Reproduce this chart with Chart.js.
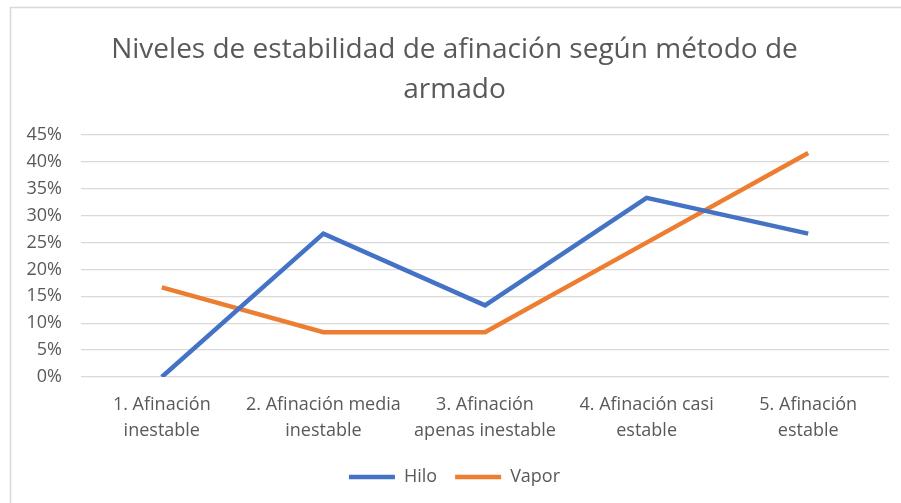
<!DOCTYPE html>
<html>
<head>
<meta charset="utf-8">
<script src="https://cdn.jsdelivr.net/npm/chart.js@4"></script>
<style>
  html, body { margin: 0; padding: 0; background: #fff; }
  #wrap { width: 901px; height: 503px; }
</style>
</head>
<body>
<div id="wrap"><canvas id="chart" width="901" height="503"></canvas></div>
<script>
// data
const categories = [
    ['1. Afinación', 'inestable'],
    ['2. Afinación media', 'inestable'],
    ['3. Afinación', 'apenas inestable'],
    ['4. Afinación casi', 'estable'],
    ['5. Afinación', 'estable']
];
const hiloValues = [0, 26.67, 13.33, 33.33, 26.67];
const vaporValues = [16.67, 8.33, 8.33, 25, 41.67];
const yTicks = [0, 5, 10, 15, 20, 25, 30, 35, 40, 45];

const textColor = '#595959';
const gridColor = '#D9D9D9';
const fontFamily = '"Open Sans", "Liberation Sans", sans-serif';

// light frame round the chart like the Excel chart area
const framePlugin = {
    id: 'frame',
    beforeDraw(chart) {
        const c = chart.ctx;
        c.save();
        c.strokeStyle = '#D9D9D9';
        c.lineWidth = 1.5;
        c.beginPath();
        c.moveTo(10.5, 503);
        c.lineTo(10.5, 7.5);
        c.lineTo(901, 7.5);
        c.stroke();
        c.restore();
    }
};

const ctx = document.getElementById('chart').getContext('2d');
const chart = new Chart(ctx, {
    type: 'line',
    data: {
        labels: categories,
        datasets: [
            {
                label: 'Hilo',
                data: hiloValues,
                borderColor: '#4472C4',
                backgroundColor: '#4472C4',
                borderWidth: 4.5,
                pointRadius: 0,
                tension: 0
            },
            {
                label: 'Vapor',
                data: vaporValues,
                borderColor: '#ED7D31',
                backgroundColor: '#ED7D31',
                borderWidth: 4.5,
                pointRadius: 0,
                tension: 0
            }
        ]
    },
    options: {
        responsive: false,
        animation: false,
        layout: { padding: { top: 30, left: 20, right: 12, bottom: 7 } },
        plugins: {
            title: {
                display: true,
                text: ['Niveles de estabilidad de afinación según método de', 'armado'],
                color: textColor,
                font: { family: fontFamily, size: 28, weight: 'normal', lineHeight: 1.43 },
                padding: { top: 0, bottom: 25 }
            },
            legend: {
                position: 'bottom',
                labels: {
                    color: textColor,
                    font: { family: fontFamily, size: 18 },
                    usePointStyle: true,
                    pointStyle: 'line',
                    pointStyleWidth: 46,
                    padding: 18
                }
            },
            tooltip: { enabled: false }
        },
        scales: {
            x: {
                offset: true,
                grid: { display: false, drawTicks: false },
                border: { display: false },
                afterFit(scale) {
                    scale.height = 73;
                },
                ticks: {
                    color: textColor,
                    font: { family: fontFamily, size: 18, lineHeight: 1.44 },
                    maxRotation: 0,
                    autoSkip: false,
                    padding: 15
                }
            },
            y: {
                min: 0,
                max: 45,
                afterBuildTicks(scale) {
                    scale.ticks = yTicks.map(v => ({ value: v }));
                },
                afterFit(scale) {
                    scale.width = 61;
                },
                grid: { color: gridColor, lineWidth: 1.3, drawTicks: false },
                border: { display: false },
                ticks: {
                    color: textColor,
                    font: { family: fontFamily, size: 18 },
                    padding: 19,
                    callback: v => v + '%'
                }
            }
        }
    },
    plugins: [framePlugin]
});
</script>
</body>
</html>
